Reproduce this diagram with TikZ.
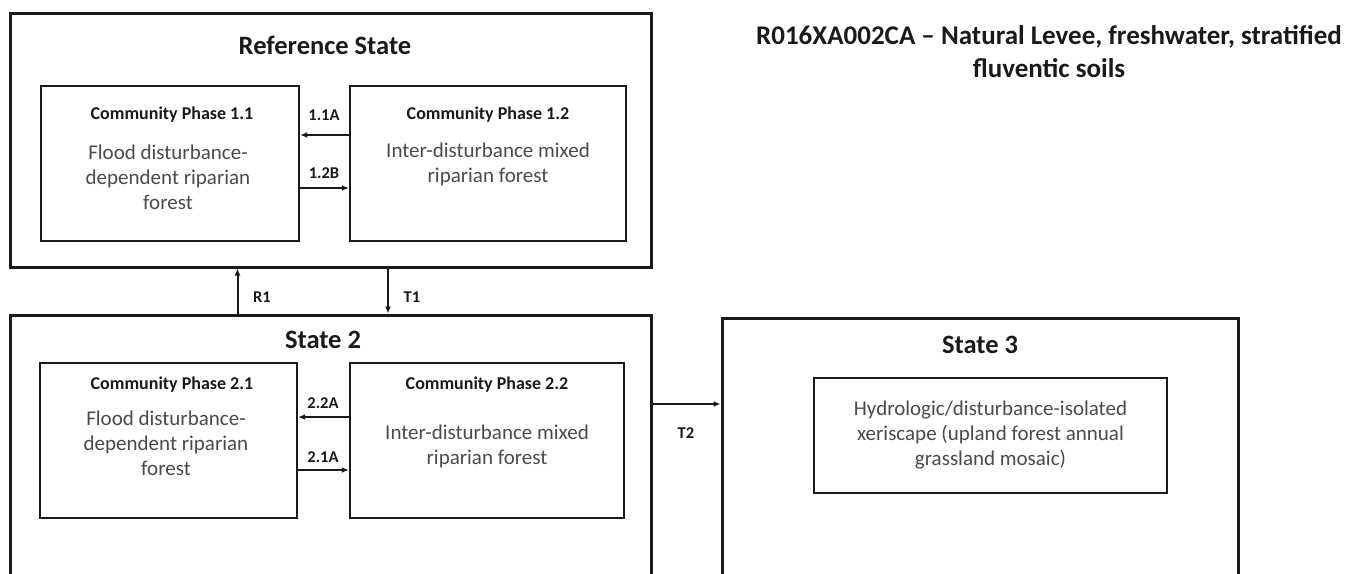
\documentclass[tikz,border=0pt]{standalone}
\usepackage{fontspec}
\setmainfont{Carlito}
\usepackage{xcolor}
\definecolor{Ink}{HTML}{1A1A1A}
\definecolor{Grey}{HTML}{4A4A4A}
\usetikzlibrary{arrows.meta,positioning}

\begin{document}
\begin{tikzpicture}[x=1pt,y=-1pt,every node/.style={align=center,inner sep=0pt},
  state/.style={draw=Ink,line width=3pt},
  phase/.style={draw=Ink,line width=2.4pt},
  ttl/.style={font=\bfseries\fontsize{26.5}{30}\selectfont,text=Ink},
  head/.style={font=\bfseries\fontsize{18}{21}\selectfont,text=Ink},
  body/.style={font=\fontsize{21}{25}\selectfont,text=Grey},
  lab/.style={font=\bfseries\fontsize{16.5}{18}\selectfont,text=Ink},
  arr/.style={-{Latex[length=7pt,width=6pt]},line width=2pt,draw=Ink}]
\useasboundingbox (0,0) rectangle (1351,573);
\clip (0,0) rectangle (1351,573);
% outer states
\node[state,minimum width=641pt,minimum height=254pt] (ref) at (330.5,140) {};
\node[state,minimum width=641pt,minimum height=285pt] (s2) at (330.5,457.5) {};
\node[state,minimum width=516pt,minimum height=282pt] (s3) at (980,459) {};
\node[ttl] (tref) at (325,45) {Reference State};
\node[ttl] (ts2) at (323,340) {State 2};
\node[ttl] (ts3) at (980,345) {State 3};
\node[ttl,font=\bfseries\fontsize{27}{33}\selectfont] (hdr) at (1049,51.5) {R016XA002CA -- Natural Levee, freshwater, stratified\\fluventic soils};
% community phases
\node[phase,minimum width=258pt,minimum height=155pt] (p11) at (170,163.5) {};
\node[phase,minimum width=276pt,minimum height=155pt] (p12) at (488,163.5) {};
\node[phase,minimum width=257pt,minimum height=155pt] (p21) at (168.5,440.5) {};
\node[phase,minimum width=274pt,minimum height=155pt] (p22) at (487,440.5) {};
\node[phase,minimum width=353pt,minimum height=115pt] (p31) at (990.5,435.5) {};
\node[head] (h11) at (172,115) {Community Phase 1.1};
\node[head] (h12) at (488,115) {Community Phase 1.2};
\node[head] (h21) at (172,385) {Community Phase 2.1};
\node[head] (h22) at (487,385) {Community Phase 2.2};
\node[body] (b11) at (168,177) {Flood disturbance-\\dependent riparian\\forest};
\node[body] (b12) at (488,164.5) {Inter-disturbance mixed\\riparian forest};
\node[body] (b21) at (166,443) {Flood disturbance-\\dependent riparian\\forest};
\node[body] (b22) at (487,446) {Inter-disturbance mixed\\riparian forest};
\node[body] (b31) at (990.5,435) {Hydrologic/disturbance-isolated\\xeriscape (upland forest annual\\grassland mosaic)};
% transitions
\draw[arr] ([yshift=28.5pt]p12.west) -- ([yshift=28.5pt]p11.east);
\draw[arr] ([yshift=-24.5pt]p11.east) -- ([yshift=-24.5pt]p12.west);
\draw[arr] ([yshift=23.5pt]p22.west) -- ([yshift=23.5pt]p21.east);
\draw[arr] ([yshift=-29.5pt]p21.east) -- ([yshift=-29.5pt]p22.west);
\draw[arr] ([xshift=-93pt]s2.north) -- ([xshift=-93pt]ref.south);
\draw[arr] ([xshift=57.5pt]ref.south) -- ([xshift=57.5pt]s2.north);
\coordinate (t2) at ([yshift=53.5pt]s2.east);
\draw[arr] (t2) -- (s3.west |- t2);
\node[lab] (l11a) at (324,115) {1.1A};
\node[lab] (l12b) at (324,173) {1.2B};
\node[lab] (l22a) at (323,403) {2.2A};
\node[lab] (l21a) at (323,457) {2.1A};
\node[lab] (lr1) at (262,297) {R1};
\node[lab] (lt1) at (412,297) {T1};
\node[lab] (lt2) at (686,433) {T2};
\end{tikzpicture}
\end{document}
